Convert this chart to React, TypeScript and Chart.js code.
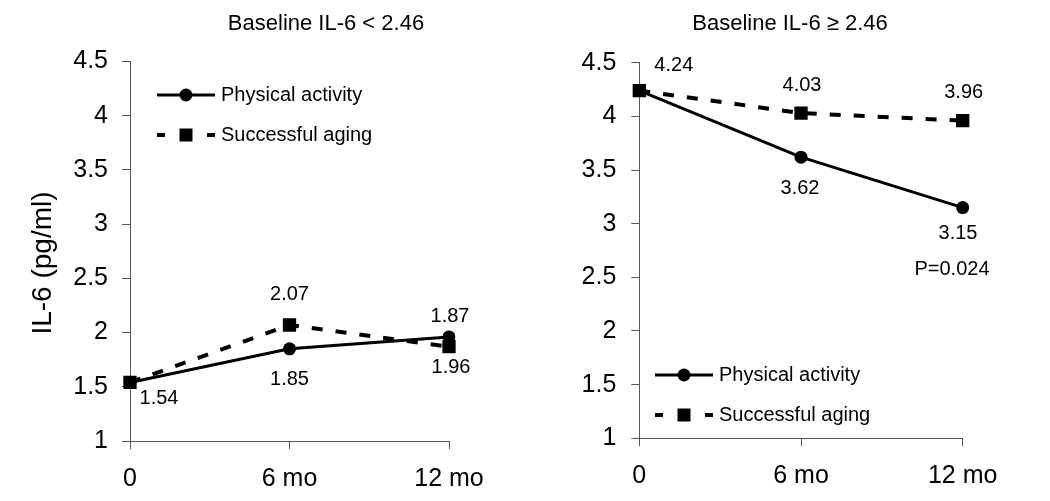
import React, { useEffect, useRef } from "react";
import { Chart, registerables } from "chart.js";

Chart.register(...registerables);

// ---------- data ----------
const categories = ["0", "6 mo", "12 mo"];
const lowPhysical = [1.54, 1.85, 1.96];
const lowSuccessful = [1.54, 2.07, 1.87];
const highPhysical = [4.24, 3.62, 3.15];
const highSuccessful = [4.24, 4.03, 3.96];
const yMin = 1;
const yMax = 4.5;
const yStep = 0.5;
const seriesNames = ["Physical activity", "Successful aging"];
const panelTitles = ["Baseline IL-6 < 2.46", "Baseline IL-6 \u2265 2.46"];
const yAxisTitle = "IL-6 (pg/ml)";
const pValueText = "P=0.024";

// ---------- styling / layout ----------
const FONT = '"Liberation Sans", Arial, Helvetica, sans-serif';
const W = 525;
const H = 501;
const AXIS_COLOR = "#555";

type Anchor = { ds: number; i: number; dx: number; dy: number };

const leftAnchors: Anchor[] = [
  { ds: 1, i: 0, dx: 29, dy: 16 },
  { ds: 1, i: 1, dx: 0, dy: -30 },
  { ds: 0, i: 1, dx: 0, dy: 31 },
  { ds: 1, i: 2, dx: 1, dy: -30 },
  { ds: 0, i: 2, dx: 2, dy: 31 },
];
const rightAnchors: Anchor[] = [
  { ds: 1, i: 0, dx: 34.5, dy: -25.6 },
  { ds: 1, i: 1, dx: 1, dy: -28 },
  { ds: 1, i: 2, dx: 1, dy: -28 },
  { ds: 0, i: 1, dx: -1, dy: 31 },
  { ds: 0, i: 2, dx: -4.7, dy: 25.6 },
];

type Panel = {
  physical: number[];
  successful: number[];
  title: string;
  titleX: number;
  titleY: number;
  area: { left: number; right: number; top: number; bottom: number };
  legendX: number;
  legendY: number;
  showYTitle: boolean;
  anchors: Anchor[];
  pValue?: { ds: number; i: number; dx: number; dy: number; text: string };
  tickPad: number;
};

const panels: Panel[] = [
  {
    physical: lowPhysical,
    successful: lowSuccessful,
    title: panelTitles[0],
    titleX: 326,
    titleY: 24,
    area: { left: 130, right: 449, top: 61.5, bottom: 441 },
    legendX: 157,
    legendY: 95,
    showYTitle: true,
    anchors: leftAnchors,
    tickPad: 14,
  },
  {
    physical: highPhysical,
    successful: highSuccessful,
    title: panelTitles[1],
    titleX: 265,
    titleY: 24,
    area: { left: 114.3, right: 437.7, top: 62.7, bottom: 438.3 },
    legendX: 130,
    legendY: 375,
    showYTitle: false,
    anchors: rightAnchors,
    pValue: { ds: 0, i: 2, dx: -10.7, dy: 62.4, text: pValueText },
    tickPad: 15,
  },
];

const textPlugin = {
  id: "panelText",
  afterDraw(chart: any, _args: any, opts: any) {
    const p: Panel = opts.panel;
    if (!p) return;
    const ctx = chart.ctx;
    ctx.save();
    ctx.fillStyle = "#000";
    ctx.strokeStyle = "#000";

    // title
    ctx.font = `22px ${FONT}`;
    ctx.textAlign = "center";
    ctx.textBaseline = "middle";
    ctx.fillText(p.title, p.titleX, p.titleY);

    // y axis title
    if (p.showYTitle) {
      ctx.save();
      ctx.font = `28px ${FONT}`;
      ctx.translate(43.5, 263);
      ctx.rotate(-Math.PI / 2);
      ctx.textAlign = "center";
      ctx.textBaseline = "middle";
      ctx.fillText(yAxisTitle, 0, 0);
      ctx.restore();
    }

    // data labels
    ctx.font = `20px ${FONT}`;
    ctx.textAlign = "center";
    ctx.textBaseline = "middle";
    for (const a of p.anchors) {
      const meta = chart.getDatasetMeta(a.ds);
      const el = meta.data[a.i];
      const v = chart.data.datasets[a.ds].data[a.i] as number;
      ctx.fillText(v.toFixed(2), el.x + a.dx, el.y + a.dy);
    }
    if (p.pValue) {
      const el = chart.getDatasetMeta(p.pValue.ds).data[p.pValue.i];
      ctx.fillText(p.pValue.text, el.x + p.pValue.dx, el.y + p.pValue.dy);
    }

    // legend
    const x0 = p.legendX;
    const len = 58;
    let y = p.legendY;
    ctx.lineWidth = 3;
    ctx.beginPath();
    ctx.moveTo(x0, y);
    ctx.lineTo(x0 + len, y);
    ctx.stroke();
    ctx.beginPath();
    ctx.arc(x0 + len / 2, y, 6.5, 0, Math.PI * 2);
    ctx.fill();
    ctx.textAlign = "left";
    ctx.font = `20px ${FONT}`;
    ctx.fillText(seriesNames[0], x0 + 64, y);

    y = p.legendY + 40;
    ctx.fillRect(x0, y - 2, 8, 4);
    ctx.fillRect(x0 + len - 8, y - 2, 8, 4);
    ctx.fillRect(x0 + len / 2 - 6.5, y - 6.5, 13, 13);
    ctx.fillText(seriesNames[1], x0 + 64, y);

    ctx.restore();
  },
};

function PanelChart({ panel }: { panel: Panel }) {
  const ref = useRef<HTMLCanvasElement | null>(null);
  useEffect(() => {
    if (!ref.current) return;
    const a = panel.area;
    const chart = new Chart(ref.current, {
      type: "line",
      data: {
        labels: categories,
        datasets: [
          {
            label: seriesNames[0],
            data: panel.physical,
            borderColor: "#000",
            backgroundColor: "#000",
            borderWidth: 3,
            pointStyle: "circle",
            pointRadius: 6.5,
            pointBorderWidth: 0,
            pointBackgroundColor: "#000",
            tension: 0,
            order: 1,
          },
          {
            label: seriesNames[1],
            data: panel.successful,
            borderColor: "#000",
            backgroundColor: "#000",
            borderWidth: 4,
            borderDash: [11, 13],
            pointStyle: "rect",
            pointRadius: 9.4,
            pointBorderWidth: 0,
            pointBackgroundColor: "#000",
            tension: 0,
            order: 0,
          },
        ],
      },
      options: {
        responsive: false,
        animation: false,
        events: [],
        layout: {
          padding: { top: a.top, right: W - a.right, bottom: 0, left: 0 },
        },
        plugins: {
          legend: { display: false },
          tooltip: { enabled: false },
          title: { display: false },
          panelText: { panel },
        } as any,
        scales: {
          x: {
            type: "category",
            offset: false,
            grid: {
              drawOnChartArea: false,
              drawTicks: true,
              tickLength: 8,
              color: AXIS_COLOR,
              lineWidth: 1,
            },
            border: { display: true, color: AXIS_COLOR, width: 1 },
            ticks: {
              color: "#000",
              font: { family: FONT, size: 25 },
              padding: 15,
              maxRotation: 0,
              autoSkip: false,
            },
            afterFit: (s: any) => {
              s.height = H - a.bottom;
            },
          },
          y: {
            type: "linear",
            min: yMin,
            max: yMax,
            grid: {
              drawOnChartArea: false,
              drawTicks: true,
              tickLength: 8,
              color: AXIS_COLOR,
              lineWidth: 1,
            },
            border: { display: true, color: AXIS_COLOR, width: 1 },
            ticks: {
              stepSize: yStep,
              color: "#000",
              font: { family: FONT, size: 25 },
              padding: panel.tickPad,
              callback: (v: any) => String(Number(v)),
            },
            afterFit: (s: any) => {
              s.width = a.left;
            },
          },
        },
      },
      plugins: [textPlugin],
    } as any);
    return () => chart.destroy();
  }, [panel]);
  return (
    <canvas
      ref={ref}
      width={W}
      height={H}
      style={{ display: "block", width: W, height: H }}
    />
  );
}

export default function App() {
  return (
    <div
      style={{
        position: "absolute",
        left: 0,
        top: 0,
        width: W * 2,
        height: H,
        background: "#fff",
        display: "flex",
      }}
    >
      {panels.map((p, k) => (
        <PanelChart key={k} panel={p} />
      ))}
    </div>
  );
}
